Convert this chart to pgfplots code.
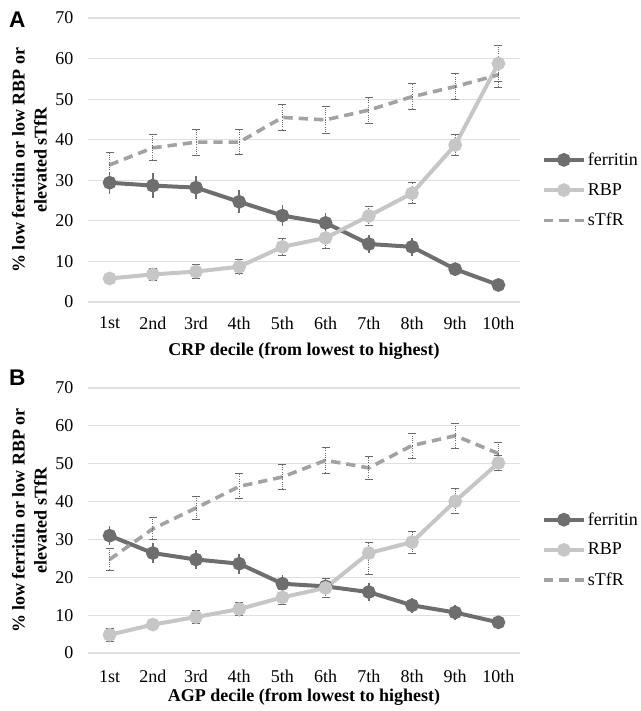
\documentclass[border=0pt]{standalone}
\usepackage{fontspec}
\setmainfont{Liberation Serif}
\newfontfamily\panelfont{Liberation Sans}
\usepackage{pgfplots}
\pgfplotsset{compat=1.18}

\definecolor{ferr}{HTML}{6E6E6E}
\definecolor{rbp}{HTML}{C6C6C6}
\definecolor{stfr}{HTML}{A2A2A2}
\definecolor{gridc}{HTML}{E0E0E0}
\definecolor{errc}{HTML}{6A6A6A}

\pgfplotsset{
  panel/.style={
    scale only axis, width=324pt,
    xmin=0.5, xmax=10.5, ymin=0, ymax=70,
    xtick={1,...,10},
    xticklabels={1st,2nd,3rd,4th,5th,6th,7th,8th,9th,10th},
    ytick={0,10,...,70},
    axis line style={draw=none}, major tick length=0pt,
    ymajorgrids, grid style={gridc, line width=0.9pt},
    font=\fontsize{13.5}{16}\selectfont,
    /pgf/number format/assume math mode=true,
    yticklabel style={xshift=-7.5pt},
    ylabel={\% low ferritin or low RBP or\\elevated sTfR},
    ylabel style={at={(axis description cs:0,0.5)}, anchor=center, yshift=44pt,
      align=center, font=\fontsize{13.5}{16.5}\selectfont\bfseries},
    xlabel style={at={(axis description cs:0.5,0)}, anchor=center,
      font=\fontsize{13.5}{16}\selectfont\bfseries},
    legend cell align=left,
    legend style={draw=none, fill=none, anchor=west, row sep=8pt,
      inner xsep=0pt, nodes={inner xsep=1.5pt},
      font=\fontsize{13.5}{16}\selectfont},
    legend image code/.code={\draw[mark repeat=2,mark phase=2] plot coordinates {(0pt,0pt) (15pt,0pt) (30pt,0pt)};},
    clip=false,
  },
  ferrplot/.style={ferr, line width=3pt, mark=*, mark size=3.6pt,
    mark options={solid},
    error bars/.cd, y dir=both, y explicit,
    error bar style={ferr, line width=1.2pt, solid}, error mark=none},
  rbpplot/.style={rbp, line width=3pt, mark=*, mark size=3.6pt,
    mark options={solid},
    error bars/.cd, y dir=both, y explicit,
    error bar style={errc, line width=0.7pt, densely dotted},
    error mark options={errc, line width=0.7pt, solid, mark size=3pt, rotate=90}},
  stfrplot/.style={stfr, line width=2.7pt, dash pattern=on 7pt off 4.5pt,
    error bars/.cd, y dir=both, y explicit,
    error bar style={errc, line width=0.7pt, densely dotted},
    error mark options={errc, line width=0.7pt, solid, mark size=3pt, rotate=90}},
}

\begin{document}
\begin{tikzpicture}
\path[use as bounding box] (0,0) rectangle (480.75pt,-533.25pt);

% Panel A: CRP deciles
\begin{axis}[panel, height=213pt, at={(66pt,-226.5pt)}, anchor=south west,
  xticklabel style={yshift=-7.5pt},
  xlabel={CRP decile (from lowest to highest)}, xlabel style={yshift=-37pt},
  legend style={at={(axis description cs:1.05,0.394)}}]
\addplot[ferrplot] coordinates {
  (1,29.4) +- (0,2.7) (2,28.7) +- (0,3.0) (3,28.2) +- (0,2.9)
  (4,24.7) +- (0,2.8) (5,21.3) +- (0,2.5) (6,19.5) +- (0,2.4)
  (7,14.3) +- (0,2.2) (8,13.6) +- (0,2.2) (9,8.1) +- (0,1.6)
  (10,4.2) +- (0,1.0)
};
\addlegendentry{ferritin}
\addplot[rbpplot] coordinates {
  (1,5.8) +- (0,1.3) (2,6.8) +- (0,1.5) (3,7.5) +- (0,1.7)
  (4,8.7) +- (0,1.7) (5,13.6) +- (0,2.1) (6,15.8) +- (0,2.6)
  (7,21.2) +- (0,2.4) (8,26.8) +- (0,2.6) (9,38.7) +- (0,2.6)
  (10,58.8) +- (0,4.4)
};
\addlegendentry{RBP}
\addplot[stfrplot] coordinates {
  (1,33.8) +- (0,3.0) (2,38.0) +- (0,3.2) (3,39.4) +- (0,3.2)
  (4,39.4) +- (0,3.1) (5,45.5) +- (0,3.1) (6,44.9) +- (0,3.3)
  (7,47.3) +- (0,3.2) (8,50.6) +- (0,3.2) (9,53.1) +- (0,3.2)
  (10,56.0) +- (0,3.0)
};
\addlegendentry{sTfR}
\end{axis}
\node[anchor=center, font=\fontsize{17}{18}\selectfont\panelfont\bfseries] at (13pt,-15pt) {A};

% Panel B: AGP deciles
\begin{axis}[panel, height=198.75pt, at={(66pt,-489.75pt)}, anchor=south west,
  xticklabel style={yshift=-9.5pt},
  xlabel={AGP decile (from lowest to highest)}, xlabel style={yshift=-33pt},
  legend style={at={(axis description cs:1.05,0.389)}}]
\addplot[ferrplot] coordinates {
  (1,31.0) +- (0,2.6) (2,26.4) +- (0,2.6) (3,24.7) +- (0,2.5)
  (4,23.6) +- (0,2.6) (5,18.3) +- (0,2.4) (6,17.6) +- (0,2.3)
  (7,16.1) +- (0,2.3) (8,12.6) +- (0,2.0) (9,10.7) +- (0,1.9)
  (10,8.1) +- (0,1.5)
};
\addlegendentry{ferritin}
\addplot[rbpplot] coordinates {
  (1,4.8) +- (0,1.8) (2,7.5) +- (0,1.3) (3,9.5) +- (0,1.7)
  (4,11.6) +- (0,1.8) (5,14.7) +- (0,2.0) (6,17.2) +- (0,2.6)
  (7,26.4) += (0,2.7) -= (0,5.7) (8,29.3) +- (0,2.9) (9,40.1) +- (0,3.3)
  (10,50.2) +- (0,2.0)
};
\addlegendentry{RBP}
\addplot[stfrplot] coordinates {
  (1,24.7) +- (0,2.8) (2,32.8) +- (0,2.9) (3,38.3) +- (0,3.1)
  (4,44.0) +- (0,3.3) (5,46.5) +- (0,3.3) (6,50.9) +- (0,3.4)
  (7,48.9) +- (0,3.0) (8,54.8) +- (0,3.3) (9,57.4) +- (0,3.3)
  (10,52.7) +- (0,3.0)
};
\addlegendentry{sTfR}
\end{axis}
\node[anchor=center, font=\fontsize{17}{18}\selectfont\panelfont\bfseries] at (13pt,-283.5pt) {B};
\end{tikzpicture}
\end{document}
